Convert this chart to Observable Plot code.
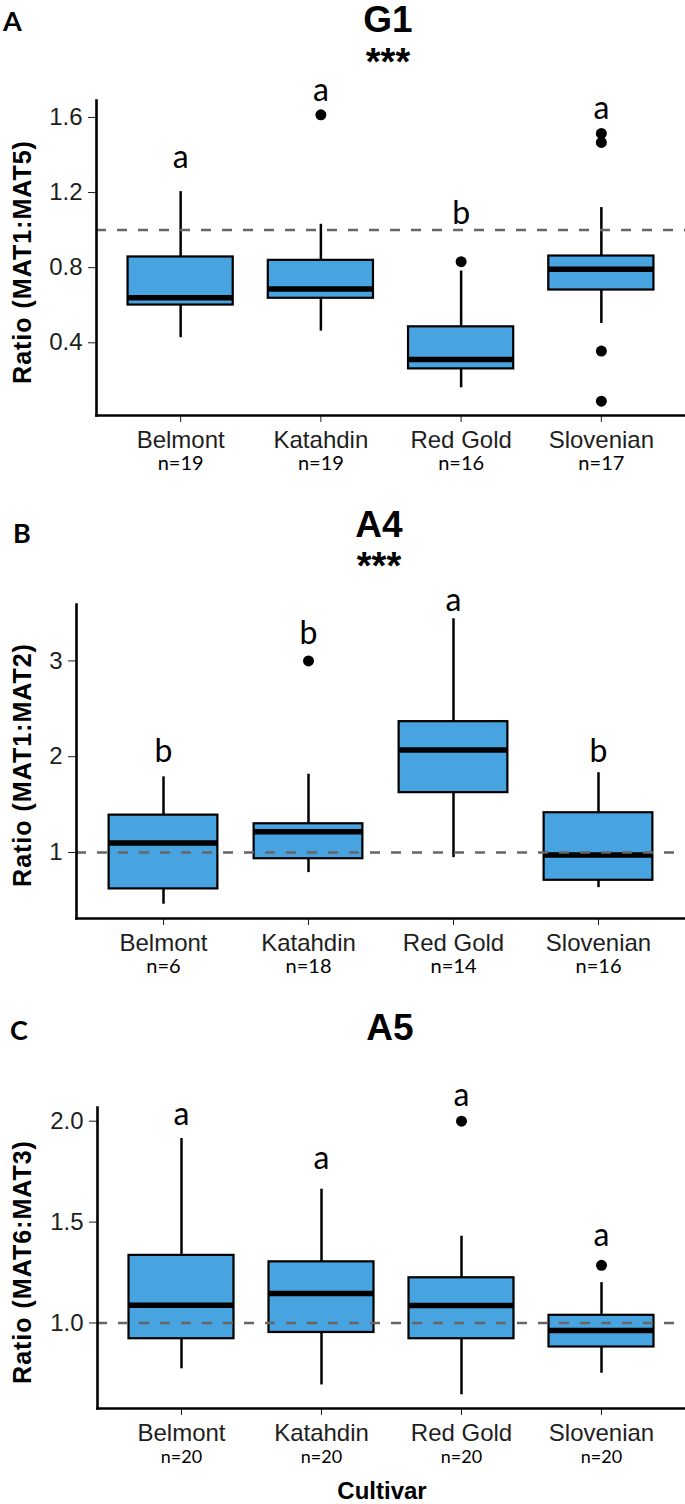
<!DOCTYPE html>
<html>
<head>
<meta charset="utf-8">
<script src="https://cdn.jsdelivr.net/npm/d3@7"></script>
<script src="https://cdn.jsdelivr.net/npm/@observablehq/plot@0.6"></script>
<style>
  body { margin: 0; background: #fff; }
  #page { position: relative; width: 685px; height: 1504px; overflow: hidden; background: #fff; }
  .abs { position: absolute; white-space: nowrap; line-height: 1; }
  .plotwrap { position: absolute; left: 0; }
  .plotwrap svg { overflow: visible; display: block; }
</style>
</head>
<body>
<div id="page"></div>
<script>
// ---------- data ----------
const cultivars = ["Belmont", "Katahdin", "Red Gold", "Slovenian"];

// Panel A — G1 ratio (MAT1:MAT5)
const g1Low    = [0.427, 0.462, 0.160, 0.503];
const g1Q1     = [0.601, 0.637, 0.261, 0.681];
const g1Median = [0.640, 0.686, 0.311, 0.791];
const g1Q3     = [0.857, 0.839, 0.485, 0.862];
const g1High   = [1.205, 1.031, 0.782, 1.120];
const g1Outliers = [[], [1.614], [0.832], [1.515, 1.467, 0.356, 0.089]];
const g1Letters  = ["a", "a", "b", "a"];
const g1LetterY  = [1.33, 1.689, 1.031, 1.59];
const g1N        = [19, 19, 16, 17];
const g1Ticks    = [0.4, 0.8, 1.2, 1.6];

// Panel B — A4 ratio (MAT1:MAT2)
const a4Low    = [0.46, 0.79, 0.946, 0.633];
const a4Q1     = [0.62, 0.935, 1.625, 0.71];
const a4Median = [1.10, 1.217, 2.07, 0.974];
const a4Q3     = [1.39, 1.30, 2.366, 1.415];
const a4High   = [1.79, 1.817, 3.44, 1.833];
const a4Outliers = [[], [3.0], [], []];
const a4Letters  = ["b", "b", "a", "b"];
const a4LetterY  = [1.94, 3.18, 3.52, 1.94];
const a4N        = [6, 18, 14, 16];
const a4Ticks    = [1, 2, 3];

// Panel C — A5 ratio (MAT6:MAT3)
const a5Low    = [0.773, 0.693, 0.644, 0.751];
const a5Q1     = [0.922, 0.953, 0.922, 0.881];
const a5Median = [1.088, 1.146, 1.086, 0.963];
const a5Q3     = [1.335, 1.303, 1.224, 1.038];
const a5High   = [1.914, 1.663, 1.430, 1.200];
const a5Outliers = [[], [], [2.0], [1.286]];
const a5Letters  = ["a", "a", "a", "a"];
const a5LetterY  = [1.98, 1.762, 2.077, 1.38];
const a5N        = [20, 20, 20, 20];
const a5Ticks    = [1.0, 1.5, 2.0];

const referenceRatio = 1;
const boxFill = "#48a3e1";

// ---------- helpers ----------
const page = document.getElementById("page");
function addText(txt, {left, baseline, size, family, weight = "normal", center = false, spacing = 0, ascentRatio}) {
  const d = document.createElement("div");
  d.className = "abs";
  d.textContent = txt;
  d.style.fontSize = size + "px";
  d.style.fontFamily = family;
  d.style.fontWeight = weight;
  d.style.letterSpacing = spacing + "px";
  d.style.top = (baseline - ascentRatio * size) + "px";
  d.style.left = left + "px";
  if (center) d.style.transform = "translateX(-50%)";
  page.appendChild(d);
  return d;
}
const SANS = '"Liberation Sans", Arial, sans-serif';
const LATO = 'Lato, "Open Sans", sans-serif';
const SANS_ASC = 0.8465, LATO_ASC = 0.887;

function addYTitle(txt, cx, cy) {
  const d = document.createElement("div");
  d.className = "abs";
  d.textContent = txt;
  d.style.fontFamily = SANS;
  d.style.fontWeight = "bold";
  d.style.fontSize = "25px";
  d.style.letterSpacing = "1px";
  d.style.left = cx + "px";
  d.style.top = cy + "px";
  d.style.transform = "translate(-50%, -50%) rotate(-90deg)";
  page.appendChild(d);
}

function panel(cfg) {
  const {low, q1, median, q3, high, outliers, letters, letterY, n, ticks, fmt,
         top, height, marginTop, marginBottom, marginLeft, nSize, nDy} = cfg;
  const rows = cultivars.map((c, i) => ({
    cultivar: c, low: low[i], q1: q1[i], median: median[i], q3: q3[i], high: high[i],
    letter: letters[i], letterY: letterY[i], n: "n=" + n[i]
  }));
  const pts = cultivars.flatMap((c, i) => outliers[i].map(v => ({cultivar: c, value: v})));
  const [lo, hi] = d3.extent([...low, ...high, ...outliers.flat()]);
  const pad = (hi - lo) * 0.05;

  const chart = Plot.plot({
    width: 685, height, marginTop, marginBottom, marginLeft, marginRight: 0,
    style: {fontFamily: SANS, fontSize: "24px", color: "#1e1e1e", background: "transparent", overflow: "visible"},
    x: {domain: cultivars, paddingInner: 0.25, paddingOuter: 0.225, round: false, label: null,
        tickSize: 7, tickPadding: 8, fontSize: 25},
    y: {domain: [lo - pad, hi + pad], ticks, tickFormat: fmt, label: null, tickSize: 8, tickPadding: 6},
    marks: [
      Plot.ruleX(rows, {x: "cultivar", y1: "low", y2: "high", stroke: "#000", strokeWidth: 2.5}),
      Plot.barY(rows, {x: "cultivar", y1: "q1", y2: "q3", fill: boxFill, stroke: "#000", strokeWidth: 2.2}),
      Plot.tickY(rows, {x: "cultivar", y: "median", stroke: "#000", strokeWidth: 5.5}),
      Plot.ruleY([referenceRatio], {stroke: "#666", strokeWidth: 2.5, strokeDasharray: "10,11"}),
      Plot.dot(pts, {x: "cultivar", y: "value", r: 5.5, fill: "#000", stroke: "none"}),
      Plot.text(rows, {x: "cultivar", y: "letterY", text: "letter", lineAnchor: "bottom",
                       fontSize: 32, fontFamily: LATO, fill: "#000"}),
      Plot.text(rows, {x: "cultivar", text: "n", frameAnchor: "bottom", lineAnchor: "top", dy: nDy,
                       fontSize: nSize, fontFamily: LATO, fill: "#000"}),
      Plot.frame({anchor: "left", stroke: "#000", strokeWidth: 2.6}),
      Plot.frame({anchor: "bottom", stroke: "#000", strokeWidth: 2.6})
    ]
  });
  const wrap = document.createElement("div");
  wrap.className = "plotwrap";
  wrap.style.top = top + "px";
  wrap.appendChild(chart);
  page.appendChild(wrap);
}

// ---------- panels ----------
panel({low: g1Low, q1: g1Q1, median: g1Median, q3: g1Q3, high: g1High, outliers: g1Outliers,
       letters: g1Letters, letterY: g1LetterY, n: g1N, ticks: g1Ticks, fmt: d3.format(".1f"),
       top: 0, height: 480, marginTop: 100, marginBottom: 65, marginLeft: 96, nSize: 20, nDy: 40});
panel({low: a4Low, q1: a4Q1, median: a4Median, q3: a4Q3, high: a4High, outliers: a4Outliers,
       letters: a4Letters, letterY: a4LetterY, n: a4N, ticks: a4Ticks, fmt: d3.format("d"),
       top: 500, height: 480, marginTop: 104, marginBottom: 62, marginLeft: 76, nSize: 20, nDy: 40});
panel({low: a5Low, q1: a5Q1, median: a5Median, q3: a5Q3, high: a5High, outliers: a5Outliers,
       letters: a5Letters, letterY: a5LetterY, n: a5N, ticks: a5Ticks, fmt: d3.format(".1f"),
       top: 1000, height: 504, marginTop: 107, marginBottom: 96, marginLeft: 97, nSize: 18, nDy: 42});

// ---------- titles and labels ----------
addText("A", {left: 3, baseline: 31, size: 27, family: LATO, weight: "bold", ascentRatio: LATO_ASC});
addText("B", {left: 13, baseline: 543, size: 27, family: LATO, weight: "bold", ascentRatio: LATO_ASC});
addText("C", {left: 10, baseline: 1040, size: 27, family: LATO, weight: "bold", ascentRatio: LATO_ASC});

addText("G1", {left: 388, baseline: 32, size: 37, family: SANS, weight: "bold", center: true, ascentRatio: SANS_ASC});
addText("***", {left: 388, baseline: 75, size: 38, family: SANS, weight: "bold", center: true, ascentRatio: SANS_ASC});
addText("A4", {left: 379, baseline: 537, size: 37, family: SANS, weight: "bold", center: true, ascentRatio: SANS_ASC});
addText("***", {left: 379, baseline: 579, size: 38, family: SANS, weight: "bold", center: true, ascentRatio: SANS_ASC});
addText("A5", {left: 390, baseline: 1040, size: 37, family: SANS, weight: "bold", center: true, ascentRatio: SANS_ASC});

addYTitle("Ratio (MAT1:MAT5)", 22, 262);
addYTitle("Ratio (MAT1:MAT2)", 22, 765);
addYTitle("Ratio (MAT6:MAT3)", 22, 1262);

addText("Cultivar", {left: 382, baseline: 1499, size: 24, family: SANS, weight: "bold", center: true, ascentRatio: SANS_ASC});
</script>
</body>
</html>
